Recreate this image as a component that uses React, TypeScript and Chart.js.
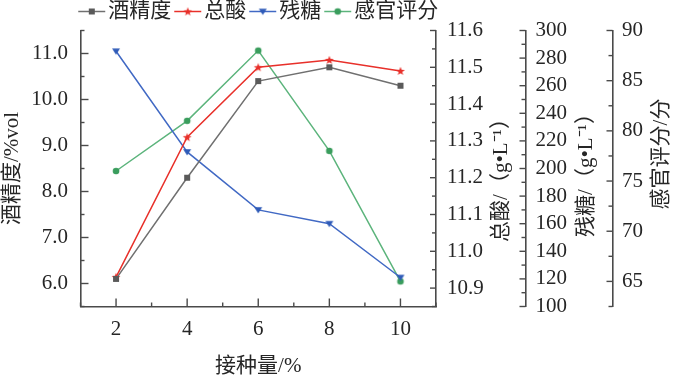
import React, { useEffect, useRef } from 'react';
import { Chart, registerables } from 'chart.js';

Chart.register(...registerables);

// ---------------- data ----------------
const inoculum = [2, 4, 6, 8, 10];
const alcohol = [6.1, 8.3, 10.4, 10.7, 10.3];
const totalAcid = [10.93, 11.31, 11.5, 11.52, 11.49];
const residualSugar = [285, 212, 170, 160, 121];
const sensoryScore = [76, 81, 88, 78, 65];

const seriesNames = ['酒精度', '总酸', '残糖', '感官评分'];

const xTicks = [2, 4, 6, 8, 10];
const alcoholTicks = [6, 7, 8, 9, 10, 11];
const acidTicks = [10.9, 11.0, 11.1, 11.2, 11.3, 11.4, 11.5, 11.6];
const sugarTicks = [100, 120, 140, 160, 180, 200, 220, 240, 260, 280, 300];
const scoreTicks = [65, 70, 75, 80, 85, 90];

const xTitle = '接种量/%';
const alcoholTitle = '酒精度/%vol';
const acidTitle = '总酸/（g•L⁻¹）';
const sugarTitle = '残糖/（g•L⁻¹）';
const scoreTitle = '感官评分/分';

// ---------------- style ----------------
const FONT = "'Liberation Serif', 'Noto Sans CJK SC', serif";
const FSIZE = 21;
const TEXT = '#262626';
const AXIS = '#4a4a4a';
const GRAY = '#707070';
const GRAY_M = '#5a5a5a';
const RED = '#e8302a';
const BLUE = '#4169c4';
const BLUE_M = '#2f5bb8';
const GREEN = '#5cb47c';
const GREEN_M = '#3a9d5d';

const MINOR: Record<string, number> = { x: 1, y: 0.5, y1: 0.05, y2: 10, y3: 2.5 };
const MAJOR_LEN: Record<string, number> = { x: 8, y: 8, y1: 6, y2: 6, y3: 6 };
const MINOR_LEN = 4;

const RIGHT_TITLES: Record<string, { text: string; dx: number; dy: number }> = {
  y1: { text: acidTitle, dx: 65.7, dy: 6.5 },
  y2: { text: sugarTitle, dx: 61.2, dy: 1.5 },
  y3: { text: scoreTitle, dx: 49.2, dy: -14.5 },
};

const LEG_LINE = 27;
const LEG_GAP = 3;
const LEG_ITEM_GAP = 3;
const LEG_Y = 11.5;

function makeMarker(kind: string, color: string): HTMLCanvasElement {
  const c = document.createElement('canvas');
  c.width = 10;
  c.height = 10;
  const g = c.getContext('2d')!;
  g.fillStyle = color;
  g.beginPath();
  if (kind === 'square') {
    g.rect(2, 2, 6, 6);
  } else if (kind === 'star') {
    for (let i = 0; i < 10; i++) {
      const r = i % 2 === 0 ? 4.6 : 1.9;
      const a = -Math.PI / 2 + (i * Math.PI) / 5;
      const px = 5 + r * Math.cos(a);
      const py = 5.4 + r * Math.sin(a);
      if (i === 0) g.moveTo(px, py);
      else g.lineTo(px, py);
    }
    g.closePath();
  } else if (kind === 'tri') {
    g.moveTo(1, 2.3);
    g.lineTo(9, 2.3);
    g.lineTo(5, 8.6);
    g.closePath();
  } else {
    g.arc(5, 5, 3.3, 0, Math.PI * 2);
  }
  g.fill();
  return c;
}

const tickPlugin = {
  id: 'inwardTicks',
  afterDraw(chart: any) {
    const ctx = chart.ctx;
    ctx.save();
    ctx.strokeStyle = AXIS;
    ctx.lineWidth = 1.4;
    Object.keys(chart.scales).forEach((id) => {
      const s = chart.scales[id];
      const majors: number[] = s.ticks.map((t: any) => t.value);
      const step = MINOR[id];
      const marks: [number, number][] = majors.map((v) => [v, MAJOR_LEN[id]]);
      const i0 = Math.ceil(s.min / step - 1e-6);
      const i1 = Math.floor(s.max / step + 1e-6);
      for (let i = i0; i <= i1; i++) {
        const v = i * step;
        if (!majors.some((m) => Math.abs(m - v) < step / 10)) marks.push([v, MINOR_LEN]);
      }
      marks.forEach(([v, len]) => {
        const p = s.getPixelForValue(v);
        ctx.beginPath();
        if (s.isHorizontal()) {
          ctx.moveTo(p, s.top);
          ctx.lineTo(p, s.top - len);
        } else if (s.position === 'left') {
          ctx.moveTo(s.right, p);
          ctx.lineTo(s.right + len, p);
        } else {
          ctx.moveTo(s.left, p);
          ctx.lineTo(s.left - len, p);
        }
        ctx.stroke();
      });
    });
    ctx.restore();
  },
};

const rightTitlePlugin = {
  id: 'rightTitles',
  afterDraw(chart: any) {
    const ctx = chart.ctx;
    const ca = chart.chartArea;
    ctx.save();
    ctx.font = `${FSIZE}px ${FONT}`;
    ctx.fillStyle = TEXT;
    ctx.textAlign = 'center';
    ctx.textBaseline = 'middle';
    Object.keys(RIGHT_TITLES).forEach((id) => {
      const s = chart.scales[id];
      const t = RIGHT_TITLES[id];
      ctx.save();
      ctx.translate(s.left + t.dx, (ca.top + ca.bottom) / 2 + t.dy);
      ctx.rotate(-Math.PI / 2);
      ctx.fillText(t.text, 0, 0);
      ctx.restore();
    });
    ctx.restore();
  },
};

const legendPlugin = {
  id: 'lineLegend',
  afterDraw(chart: any) {
    const ctx = chart.ctx;
    const ca = chart.chartArea;
    ctx.save();
    ctx.font = `${FSIZE}px ${FONT}`;
    ctx.textBaseline = 'middle';
    ctx.textAlign = 'left';
    const items = chart.data.datasets.map((ds: any) => ({
      text: ds.label,
      color: ds.borderColor,
      img: ds.pointStyle,
      w: ctx.measureText(ds.label).width,
    }));
    const total =
      items.reduce((a: number, it: any) => a + LEG_LINE + LEG_GAP + it.w, 0) +
      LEG_ITEM_GAP * (items.length - 1);
    let x = (ca.left + ca.right) / 2 - total / 2;
    items.forEach((it: any) => {
      ctx.strokeStyle = it.color;
      ctx.lineWidth = 1.5;
      ctx.beginPath();
      ctx.moveTo(x, LEG_Y);
      ctx.lineTo(x + LEG_LINE, LEG_Y);
      ctx.stroke();
      ctx.drawImage(it.img, x + LEG_LINE / 2 - it.img.width / 2, LEG_Y - it.img.height / 2);
      x += LEG_LINE + LEG_GAP;
      ctx.fillStyle = TEXT;
      ctx.fillText(it.text, x, LEG_Y);
      x += it.w + LEG_ITEM_GAP;
    });
    ctx.restore();
  },
};

function yScale(
  position: string,
  min: number,
  max: number,
  ticks: number[],
  decimals: number,
  padding: number,
  width: number,
  title?: string
) {
  return {
    type: 'linear',
    position,
    min,
    max,
    afterBuildTicks: (s: any) => {
      s.ticks = ticks.map((v) => ({ value: v }));
    },
    afterFit: (s: any) => {
      s.width = width;
    },
    grid: { display: false, drawTicks: false },
    border: { display: true, color: AXIS, width: 1.6 },
    ticks: {
      autoSkip: false,
      padding,
      color: TEXT,
      font: { family: FONT, size: FSIZE },
      callback: (v: any) => Number(v).toFixed(decimals),
    },
    title: title
      ? {
          display: true,
          text: title,
          color: TEXT,
          font: { family: FONT, size: FSIZE },
          padding: { top: 0, bottom: 0 },
        }
      : { display: false },
  };
}

export default function App() {
  const ref = useRef<HTMLCanvasElement>(null);

  useEffect(() => {
    const mk = (ys: number[]) => inoculum.map((x, i) => ({ x, y: ys[i] }));
    const ds = (label: string, ys: number[], axis: string, color: string, img: HTMLCanvasElement) => ({
      label,
      data: mk(ys),
      yAxisID: axis,
      borderColor: color,
      backgroundColor: color,
      borderWidth: 1.5,
      pointStyle: img,
      pointRadius: 4,
      tension: 0,
      fill: false,
    });

    const chart = new Chart(ref.current!, {
      type: 'line',
      data: {
        datasets: [
          ds(seriesNames[0], alcohol, 'y', GRAY, makeMarker('square', GRAY_M)),
          ds(seriesNames[1], totalAcid, 'y1', RED, makeMarker('star', RED)),
          ds(seriesNames[2], residualSugar, 'y2', BLUE, makeMarker('tri', BLUE_M)),
          ds(seriesNames[3], sensoryScore, 'y3', GREEN, makeMarker('circle', GREEN_M)),
        ],
      },
      options: {
        responsive: false,
        devicePixelRatio: 1,
        animation: false,
        layout: { padding: { top: 30.5, left: 0, right: 0, bottom: 0 } },
        plugins: { legend: { display: false }, tooltip: { enabled: false } },
        scales: {
          x: {
            type: 'linear',
            position: 'bottom',
            min: 1,
            max: 11,
            afterBuildTicks: (s: any) => {
              s.ticks = xTicks.map((v) => ({ value: v }));
            },
            afterFit: (s: any) => {
              s.height = 74.5;
            },
            grid: { display: false, drawTicks: false },
            border: { display: true, color: AXIS, width: 1.6 },
            ticks: {
              autoSkip: false,
              maxRotation: 0,
              padding: 10,
              color: TEXT,
              font: { family: FONT, size: FSIZE },
              callback: (v: any) => String(v),
            },
            title: {
              display: true,
              text: xTitle,
              color: TEXT,
              font: { family: FONT, size: FSIZE },
              padding: { top: 0, bottom: 2 },
            },
          },
          y: yScale('left', 5.5, 11.5, alcoholTicks, 1, 12.5, 80.5, alcoholTitle),
          y1: yScale('right', 10.85, 11.6, acidTicks, 1, 11, 89.5),
          y2: yScale('right', 100, 300, sugarTicks, 0, 10, 87),
          y3: yScale('right', 62.5, 90, scoreTicks, 0, 9.5, 64.5),
        } as any,
      },
      plugins: [tickPlugin, rightTitlePlugin, legendPlugin],
    } as any);
    return () => chart.destroy();
  }, []);

  return (
    <div style={{ position: 'absolute', left: 0, top: 0, width: 677, height: 381, background: '#fff' }}>
      <canvas ref={ref} width={677} height={381} style={{ display: 'block', width: 677, height: 381 }} />
    </div>
  );
}
